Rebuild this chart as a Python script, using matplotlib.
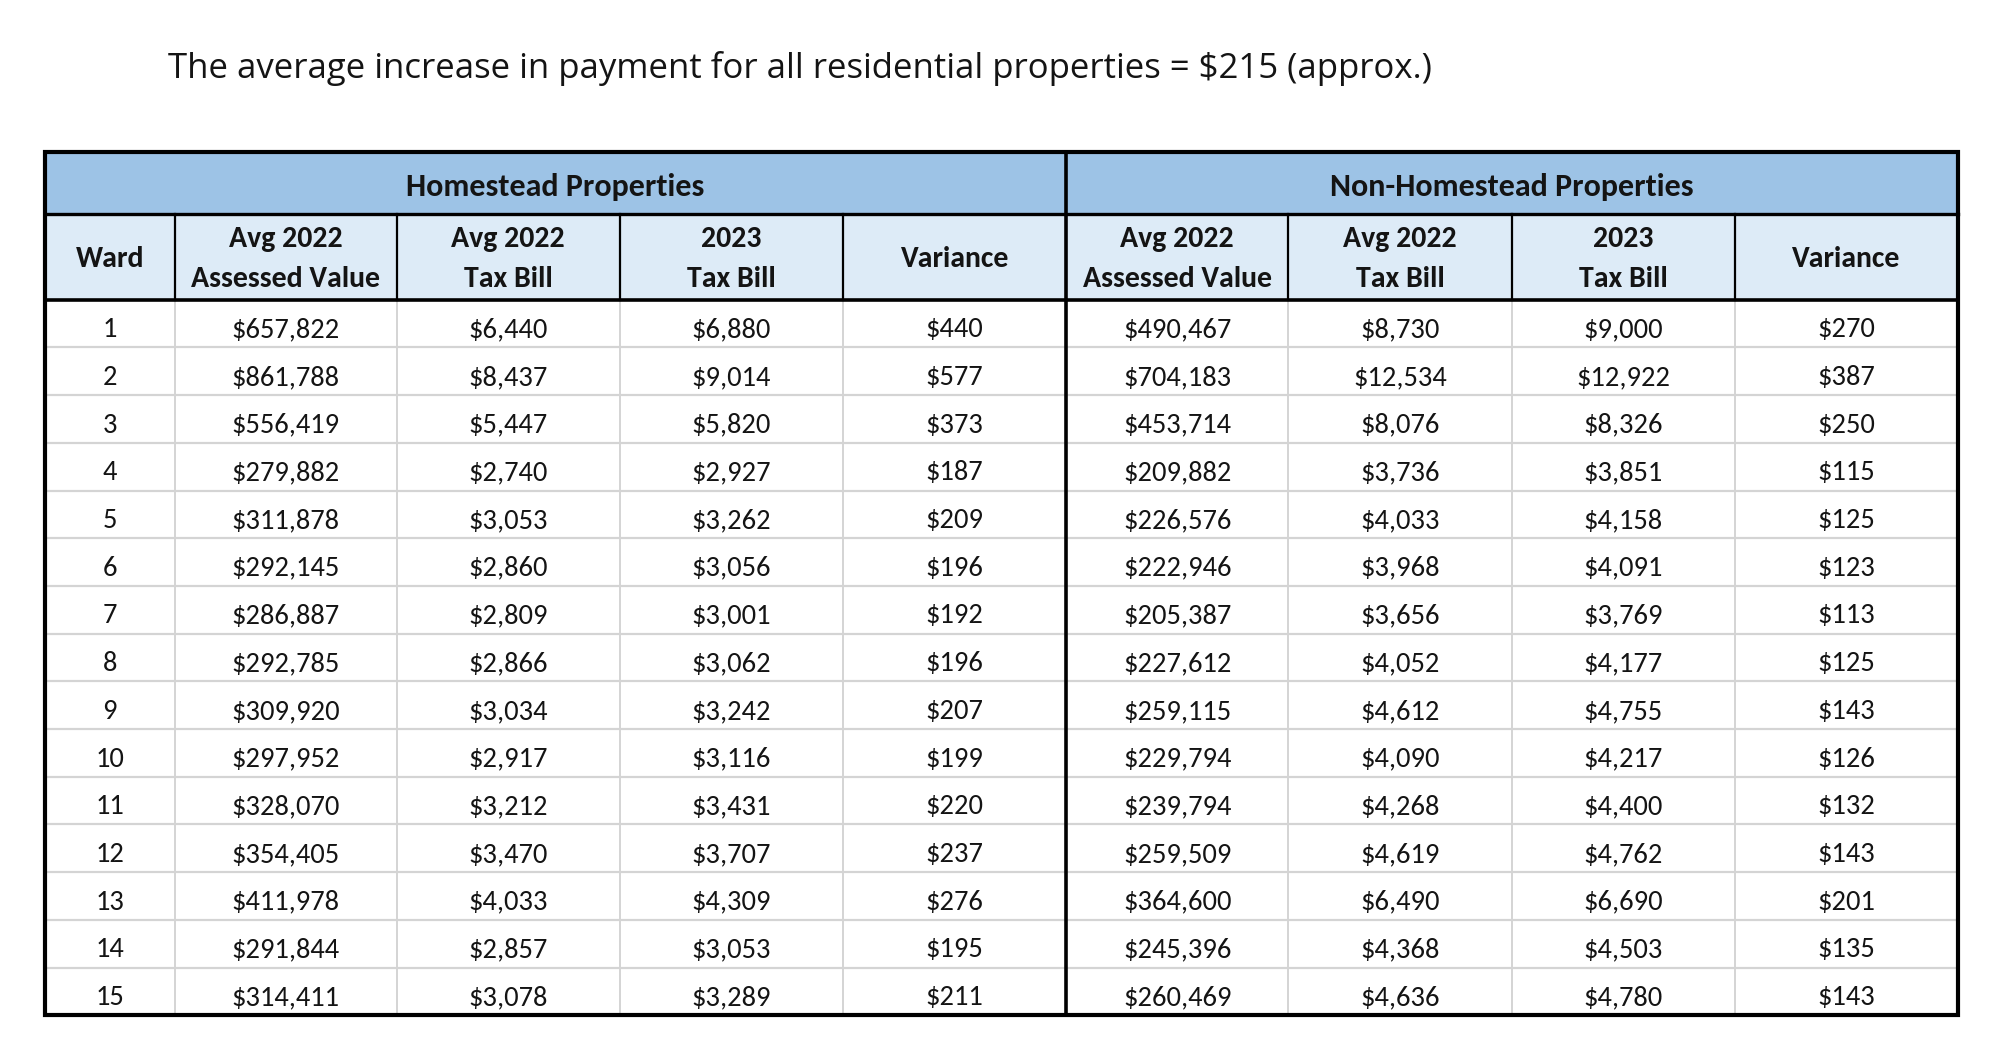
import matplotlib.pyplot as plt
from matplotlib.patches import Rectangle

wards = list(range(1, 16))

home_assessed = [657822, 861788, 556419, 279882, 311878, 292145, 286887, 292785,
                 309920, 297952, 328070, 354405, 411978, 291844, 314411]
home_bill_2022 = [6440, 8437, 5447, 2740, 3053, 2860, 2809, 2866,
                  3034, 2917, 3212, 3470, 4033, 2857, 3078]
home_bill_2023 = [6880, 9014, 5820, 2927, 3262, 3056, 3001, 3062,
                  3242, 3116, 3431, 3707, 4309, 3053, 3289]
home_variance = [440, 577, 373, 187, 209, 196, 192, 196,
                 207, 199, 220, 237, 276, 195, 211]

non_assessed = [490467, 704183, 453714, 209882, 226576, 222946, 205387, 227612,
                259115, 229794, 239794, 259509, 364600, 245396, 260469]
non_bill_2022 = [8730, 12534, 8076, 3736, 4033, 3968, 3656, 4052,
                 4612, 4090, 4268, 4619, 6490, 4368, 4636]
non_bill_2023 = [9000, 12922, 8326, 3851, 4158, 4091, 3769, 4177,
                 4755, 4217, 4400, 4762, 6690, 4503, 4780]
non_variance = [270, 387, 250, 115, 125, 123, 113, 125,
                143, 126, 132, 143, 201, 135, 143]

group_titles = ['Homestead Properties', 'Non-Homestead Properties']
sub_headers = ['Ward', 'Avg 2022\nAssessed Value', 'Avg 2022\nTax Bill', '2023\nTax Bill', 'Variance',
               'Avg 2022\nAssessed Value', 'Avg 2022\nTax Bill', '2023\nTax Bill', 'Variance']
title = 'The average increase in payment for all residential properties = $215 (approx.)'

# layout (pixel units)
W, H = 2000, 1061
col_x = [44.6, 174.7, 396.7, 619.9, 843.1, 1066.3, 1288.3, 1511.5, 1734.7, 1957.9]
y_top, y_grp, y_sub, y_bot = 151.8, 214.3, 299.7, 1015.3
row_h = (y_bot - y_sub) / len(wards)

head_blue = '#9dc3e6'
sub_blue = '#ddebf7'
grid_gray = '#d4d4d4'
txt = '#141414'
tfont = ['Carlito', 'Lato', 'DejaVu Sans']

fig = plt.figure(figsize=(20, 10.61), dpi=100)
ax = fig.add_axes([0, 0, 1, 1])
ax.set_xlim(0, W)
ax.set_ylim(H, 0)
ax.axis('off')

ax.text(168, 68, title, fontsize=25, family=['Open Sans', 'DejaVu Sans'],
        color=txt, va='center', ha='left')

# header fills
ax.add_patch(Rectangle((col_x[0], y_top), col_x[-1] - col_x[0], y_grp - y_top,
                       facecolor=head_blue, edgecolor='none'))
ax.add_patch(Rectangle((col_x[0], y_grp), col_x[-1] - col_x[0], y_sub - y_grp,
                       facecolor=sub_blue, edgecolor='none'))

# group titles
ax.text((col_x[0] + col_x[5]) / 2, 187, group_titles[0], fontsize=23, weight='bold',
        family=tfont, color=txt, ha='center', va='center')
ax.text((col_x[5] + col_x[9]) / 2, 187, group_titles[1], fontsize=23, weight='bold',
        family=tfont, color=txt, ha='center', va='center')

# sub headers
for i, lab in enumerate(sub_headers):
    cx = (col_x[i] + col_x[i + 1]) / 2
    ax.text(cx, 259, lab, fontsize=21.5, weight='bold', family=tfont, color=txt,
            ha='center', va='center', linespacing=1.65)

# data rows
columns = [wards, home_assessed, home_bill_2022, home_bill_2023, home_variance,
           non_assessed, non_bill_2022, non_bill_2023, non_variance]
for r in range(len(wards)):
    cy = y_sub + r * row_h + row_h * 0.63
    for c, vals in enumerate(columns):
        s = str(vals[r]) if c == 0 else '${:,}'.format(vals[r])
        cx = (col_x[c] + col_x[c + 1]) / 2
        ax.text(cx, cy, s, fontsize=20.5, weight='medium', family=tfont, color=txt,
                ha='center', va='center')

# light grid in data area
for r in range(1, len(wards)):
    y = y_sub + r * row_h
    ax.plot([col_x[0], col_x[-1]], [y, y], color=grid_gray, lw=1.6, zorder=1)
for x in col_x[1:-1]:
    if x != col_x[5]:
        ax.plot([x, x], [y_sub, y_bot], color=grid_gray, lw=1.4, zorder=1)

# black lines in header
for x in col_x[1:-1]:
    if x != col_x[5]:
        ax.plot([x, x], [y_grp, y_sub], color='black', lw=1.6, zorder=3)
ax.plot([col_x[0], col_x[-1]], [y_grp, y_grp], color='black', lw=2.4, zorder=3)
ax.plot([col_x[0], col_x[-1]], [y_sub, y_sub], color='black', lw=2.6, zorder=3)
ax.plot([col_x[5], col_x[5]], [y_top, y_bot], color='black', lw=2.6, zorder=3)

# outer border
ax.add_patch(Rectangle((col_x[0], y_top), col_x[-1] - col_x[0], y_bot - y_top,
                       facecolor='none', edgecolor='black', lw=3, zorder=4))

fig.savefig('out.png', dpi=100, facecolor='white')
